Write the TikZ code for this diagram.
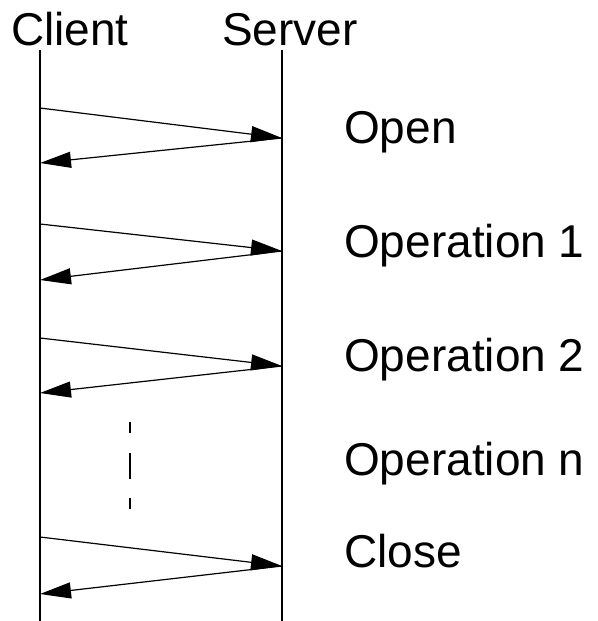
\documentclass[tikz,border=0pt]{standalone}
\usepackage{fontspec}
\setmainfont{Liberation Sans}
\usetikzlibrary{arrows.meta}
\begin{document}
\begin{tikzpicture}[x=1pt,y=-1pt,
		>={Triangle[length=31pt,width=16pt]},
		every node/.style={font=\fontsize{46}{52}\selectfont,inner sep=0pt},
		lifeline/.style={line width=2pt},
		msg/.style={->,line width=1.2pt},
		oplabel/.style={anchor=base west}]
		\useasboundingbox (0,0) rectangle (597,621);
		
		\node[anchor=base](client) at (70,45) {Client};
		\node[anchor=base](server) at (290,45) {Server};
		\coordinate (ctop) at (40,50);  \coordinate (cbot) at (40,621);
		\coordinate (stop) at (282,50); \coordinate (sbot) at (282,621);
		\draw[lifeline] (ctop) -- (cbot);
		\draw[lifeline] (stop) -- (sbot);
		
		% request goes over, reply comes back
		\coordinate (o1) at (40,108); \coordinate (o2) at (282,138); \coordinate (o3) at (40,163);
		\coordinate (p1) at (40,224); \coordinate (p2) at (282,251); \coordinate (p3) at (40,280);
		\coordinate (q1) at (40,338); \coordinate (q2) at (282,366); \coordinate (q3) at (40,393);
		\coordinate (z1) at (40,537); \coordinate (z2) at (282,566); \coordinate (z3) at (40,594);
		\draw[msg] (o1) -- (o2);  \draw[msg] (o2) -- (o3);
		\draw[msg] (p1) -- (p2);  \draw[msg] (p2) -- (p3);
		\draw[msg] (q1) -- (q2);  \draw[msg] (q2) -- (q3);
		\draw[msg] (z1) -- (z2);  \draw[msg] (z2) -- (z3);
		
		\coordinate (gapa) at (130,422); \coordinate (gapb) at (130,509);
		\draw[line width=2pt,dash pattern=on 11pt off 20pt on 26pt off 19pt] (gapa) -- (gapb);
		
		\node[oplabel](open)  at (344,143) {Open};
		\node[oplabel](op1)   at (344,257) {Operation 1};
		\node[oplabel](op2)   at (344,371) {Operation 2};
		\node[oplabel](opn)   at (344,475) {Operation n};
		\node[oplabel](close) at (344,567) {Close};
		\end{tikzpicture}
\end{document}
